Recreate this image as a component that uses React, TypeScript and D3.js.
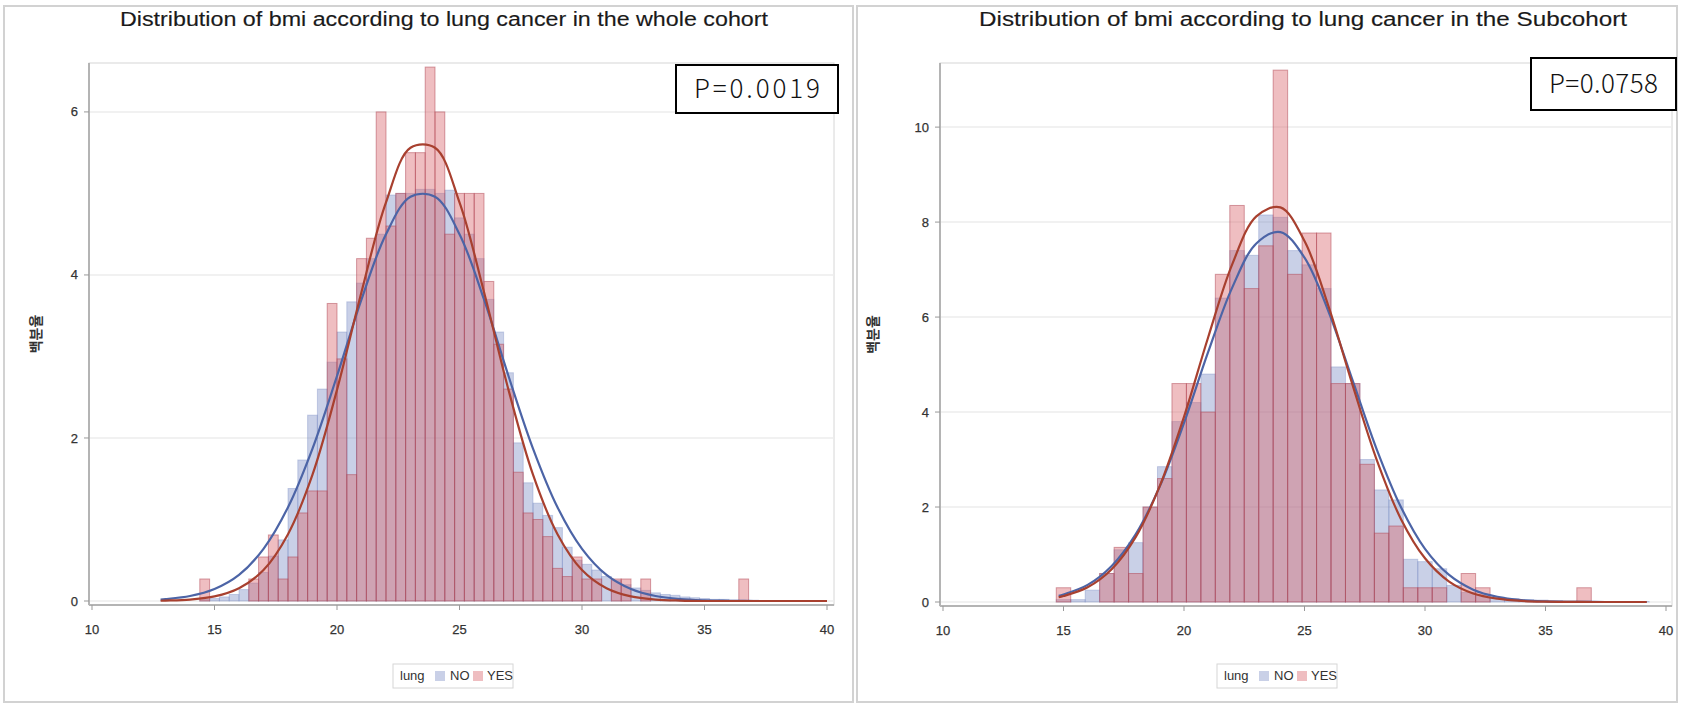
import React from 'react';
import * as d3 from 'd3';

// ---- text ----
const panelTitles = [
  'Distribution of bmi according to lung cancer in the whole cohort',
  'Distribution of bmi according to lung cancer in the Subcohort',
];
const pLabels = ['P=0.0019', 'P=0.0758'];
const legendTitle = 'lung';
const legendLabels = ['NO', 'YES'];
const yAxisLabel = '백분율';

// ---- ticks ----
const xTicks = [10, 15, 20, 25, 30, 35, 40];
const wholeYTicks = [0, 2, 4, 6];
const subYTicks = [0, 2, 4, 6, 8, 10];

// ---- whole cohort histogram (bin width 0.4, percent) ----
const wholeBinWidth = 0.4;
const wholeMids = [
  14.6, 15.0, 15.4, 15.8, 16.2, 16.6, 17.0, 17.4, 17.8, 18.2, 18.6, 19.0, 19.4, 19.8, 20.2,
  20.6, 21.0, 21.4, 21.8, 22.2, 22.6, 23.0, 23.4, 23.8, 24.2, 24.6, 25.0, 25.4, 25.8, 26.2,
  26.6, 27.0, 27.4, 27.8, 28.2, 28.6, 29.0, 29.4, 29.8, 30.2, 30.6, 31.0, 31.4, 31.8, 32.2,
  32.6, 33.0, 33.4, 33.8, 34.2, 34.6, 35.0, 35.4, 35.8, 36.2, 36.6, 37.0,
];
const wholeNo = [
  0.02, 0.03, 0.05, 0.08, 0.14, 0.22, 0.35, 0.55, 0.75, 1.38, 1.73, 2.28, 2.6, 2.93, 3.3,
  3.67, 3.9, 4.2, 4.5, 4.98, 5.0, 5.0, 5.05, 5.05, 5.0, 5.04, 4.7, 4.5, 4.2, 3.7,
  3.3, 2.8, 1.94, 1.45, 1.2, 1.05, 0.9, 0.66, 0.5, 0.45, 0.38, 0.3, 0.25, 0.2, 0.16,
  0.13, 0.1, 0.08, 0.07, 0.05, 0.04, 0.03, 0.02, 0.02, 0.01, 0.01, 0.01,
];
const wholeYes = [
  0.27, 0, 0, 0, 0, 0.27, 0.54, 0.81, 0.27, 0.54, 1.08, 1.35, 1.35, 3.65, 2.97,
  1.55, 4.2, 4.45, 6.0, 4.6, 5.0, 5.5, 5.5, 6.55, 6.0, 4.5, 5.0, 5.0, 5.0, 3.92,
  3.15, 2.6, 1.58, 1.08, 1.0, 0.79, 0.4, 0.3, 0.54, 0.27, 0.27, 0, 0.27, 0.27, 0,
  0.27, 0, 0, 0, 0, 0, 0, 0, 0, 0, 0.27, 0,
];

// ---- subcohort histogram (bin width 0.6, percent) ----
const subBinWidth = 0.6;
const subMids = [
  15.0, 15.6, 16.2, 16.8, 17.4, 18.0, 18.6, 19.2, 19.8, 20.4, 21.0, 21.6, 22.2, 22.8, 23.4,
  24.0, 24.6, 25.2, 25.8, 26.4, 27.0, 27.6, 28.2, 28.8, 29.4, 30.0, 30.6, 31.2, 31.8, 32.4,
  33.0, 33.6, 34.2, 34.8, 35.4, 36.0, 36.6, 37.2, 37.8, 38.4, 39.0,
];
const subNo = [
  0.05, 0.05, 0.25, 0.6, 1.1, 1.25, 2.0, 2.85, 3.8, 4.2, 4.8, 6.4, 7.4, 7.3, 8.15,
  8.1, 7.4, 7.1, 6.6, 4.95, 4.6, 3.0, 2.36, 2.15, 0.9, 0.85, 0.7, 0.35, 0.2, 0.15,
  0.1, 0.07, 0.05, 0.04, 0.03, 0.02, 0.02, 0.01, 0.01, 0.01, 0.01,
];
const subYes = [
  0.3, 0, 0, 0.6, 1.15, 0.6, 2.0, 2.6, 4.6, 4.6, 4.0, 6.9, 8.35, 6.6, 7.5,
  11.2, 6.9, 7.77, 7.77, 4.6, 4.6, 2.9, 1.45, 1.6, 0.3, 0.3, 0.3, 0, 0.6, 0.3,
  0, 0, 0, 0, 0, 0, 0.3, 0, 0, 0, 0,
];

// ---- fitted normal curves ----
const wholeCurveX = [
  12.8, 13, 14, 15, 16, 17, 18, 19, 20, 21, 22, 23, 24, 25, 26, 27, 28, 29, 30, 31, 32, 33,
  34, 35, 36, 37, 38, 39, 40,
];
const wholeCurveNo = [
  0.018, 0.023, 0.061, 0.147, 0.32, 0.64, 1.15, 1.87, 2.76, 3.7, 4.5, 4.96, 4.96, 4.5, 3.7,
  2.76, 1.87, 1.15, 0.64, 0.32, 0.147, 0.061, 0.023, 0.008, 0.003, 0, 0, 0, 0,
];
const wholeCurveYes = [
  0.003, 0.005, 0.018, 0.056, 0.156, 0.38, 0.82, 1.55, 2.59, 3.79, 4.89, 5.56, 5.56, 4.89,
  3.79, 2.59, 1.55, 0.82, 0.38, 0.156, 0.056, 0.018, 0.005, 0, 0, 0, 0, 0, 0,
];
const subCurveX = [
  14.8, 15, 16, 17, 18, 19, 20, 21, 22, 23, 24, 25, 26, 27, 28, 29, 30, 31, 32, 33, 34, 35,
  36, 37, 38, 39, 39.2,
];
const subCurveNo = [
  0.13, 0.158, 0.36, 0.76, 1.43, 2.44, 3.77, 5.26, 6.62, 7.55, 7.79, 7.25, 6.11, 4.66, 3.21,
  2.0, 1.12, 0.57, 0.26, 0.11, 0.041, 0.014, 0.004, 0.001, 0, 0, 0,
];
const subCurveYes = [
  0.1, 0.125, 0.31, 0.69, 1.37, 2.45, 3.9, 5.57, 7.11, 8.12, 8.31, 7.6, 6.22, 4.56, 2.99,
  1.75, 0.92, 0.43, 0.18, 0.07, 0.023, 0.007, 0.002, 0, 0, 0, 0,
];

const NO_FILL = '#7083c0';
const YES_FILL = '#d9646c';
const NO_LINE = '#4c64a6';
const YES_LINE = '#a8402f';
const FONT = '"Liberation Sans", Arial, sans-serif';

type PanelProps = {
  frame: [number, number, number, number];
  plot: { x0: number; x1: number; top: number; bottom: number };
  xRange: [number, number];
  yZero: number;
  yMax: number;
  titleX: number;
  labelX: number;
  legendX: number;
  title: string;
  pLabel: string;
  pBox: [number, number, number, number];
  yTicks: number[];
  mids: number[];
  binWidth: number;
  no: number[];
  yes: number[];
  curveX: number[];
  curveNo: number[];
  curveYes: number[];
};

function Panel(p: PanelProps) {
  const x = d3.scaleLinear().domain([10, 40]).range(p.xRange);
  const y = d3.scaleLinear().domain([0, p.yMax]).range([p.yZero, p.plot.top]);
  const line = d3
    .line<[number, number]>()
    .x((d) => x(d[0]))
    .y((d) => y(d[1]))
    .curve(d3.curveCatmullRom.alpha(0.5));
  const bars = (vals: number[]) =>
    p.mids.map((m, i) => ({ m, v: vals[i] })).filter((d) => d.v > 0);
  const [fx, fy, fw, fh] = p.frame;
  const [bx, by, bw, bh] = p.pBox;

  return (
    <g>
      <rect x={fx} y={fy} width={fw} height={fh} fill="#fff" stroke="#d2d2d2" strokeWidth={2} />
      <text
        x={p.titleX}
        y={26}
        textAnchor="middle"
        fontFamily={FONT}
        fontSize={20}
        fill="#1a1a1a"
        stroke="#1a1a1a"
        strokeWidth={0.15}
        textLength={648}
        lengthAdjust="spacingAndGlyphs"
      >
        {p.title}
      </text>

      {/* wall */}
      <rect
        x={p.plot.x0}
        y={p.plot.top}
        width={p.plot.x1 - p.plot.x0}
        height={p.plot.bottom - p.plot.top}
        fill="#fff"
        stroke="#d6d6d6"
      />
      {p.yTicks.map((t) => (
        <line key={t} x1={p.plot.x0} x2={p.plot.x1} y1={y(t)} y2={y(t)} stroke="#ececec" strokeWidth={1.5} />
      ))}

      {/* bars */}
      {bars(p.no).map((d) => (
        <rect
          key={'n' + d.m}
          x={x(d.m - p.binWidth / 2)}
          y={y(d.v)}
          width={x(d.m + p.binWidth / 2) - x(d.m - p.binWidth / 2)}
          height={y(0) - y(d.v)}
          fill={NO_FILL}
          fillOpacity={0.38}
          stroke={NO_FILL}
          strokeOpacity={0.35}
        />
      ))}
      {bars(p.yes).map((d) => (
        <rect
          key={'y' + d.m}
          x={x(d.m - p.binWidth / 2)}
          y={y(d.v)}
          width={x(d.m + p.binWidth / 2) - x(d.m - p.binWidth / 2)}
          height={y(0) - y(d.v)}
          fill={YES_FILL}
          fillOpacity={0.42}
          stroke="#b04452"
          strokeOpacity={0.5}
        />
      ))}

      {/* fitted curves */}
      <path
        d={line(p.curveX.map((v, i) => [v, p.curveNo[i]]) as [number, number][]) || ''}
        fill="none"
        stroke={NO_LINE}
        strokeWidth={2.2}
      />
      <path
        d={line(p.curveX.map((v, i) => [v, p.curveYes[i]]) as [number, number][]) || ''}
        fill="none"
        stroke={YES_LINE}
        strokeWidth={2.2}
      />

      {/* axes */}
      <line x1={p.plot.x0} x2={p.plot.x0} y1={p.plot.top} y2={p.plot.bottom} stroke="#b4b4b4" strokeWidth={2} />
      <line x1={p.plot.x0} x2={p.plot.x1} y1={p.plot.bottom} y2={p.plot.bottom} stroke="#b4b4b4" strokeWidth={2} />
      {p.yTicks.map((t) => (
        <g key={'yt' + t}>
          <line x1={p.plot.x0 - 5} x2={p.plot.x0} y1={y(t)} y2={y(t)} stroke="#999" />
          <text
            x={p.plot.x0 - 11}
            y={y(t)}
            dy="0.35em"
            textAnchor="end"
            fontFamily={FONT}
            fontSize={13}
            fill="#333"
            stroke="#333"
            strokeWidth={0.25}
          >
            {t}
          </text>
        </g>
      ))}
      {xTicks.map((t) => (
        <g key={'xt' + t}>
          <line x1={x(t)} x2={x(t)} y1={p.plot.bottom} y2={p.plot.bottom + 5} stroke="#999" />
          <text
            x={x(t)}
            y={p.plot.bottom + 29}
            textAnchor="middle"
            fontFamily={FONT}
            fontSize={13}
            fill="#333"
            stroke="#333"
            strokeWidth={0.25}
          >
            {t}
          </text>
        </g>
      ))}
      <text
        transform={`translate(${p.labelX},${(p.plot.top + p.plot.bottom) / 2}) rotate(-90)`}
        textAnchor="middle"
        fontFamily='"Noto Sans CJK KR", sans-serif'
        fontSize={14}
        fontWeight="bold"
        fill="#333"
      >
        {yAxisLabel}
      </text>

      {/* P value box */}
      <rect x={bx} y={by} width={bw} height={bh} fill="#fff" stroke="#000" strokeWidth={2} />
      <text
        x={bx + bw / 2}
        y={by + bh / 2}
        dy="0.36em"
        textAnchor="middle"
        fontFamily='"Noto Sans CJK KR", sans-serif'
        fontWeight={300}
        fontSize={26}
        fill="#111"
        textLength={bw - 36}
        lengthAdjust="spacing"
      >
        {p.pLabel}
      </text>

      {/* legend */}
      <g transform={`translate(${p.legendX - 60},664)`}>
        <rect x={0} y={0} width={120} height={24} fill="#fff" stroke="#d6d6d6" />
        <text x={7} y={16} fontFamily={FONT} fontSize={13} fill="#333">
          {legendTitle}
        </text>
        <rect x={42} y={7} width={10} height={10} fill={NO_FILL} fillOpacity={0.38} />
        <text x={57} y={16} fontFamily={FONT} fontSize={13} fill="#333">
          {legendLabels[0]}
        </text>
        <rect x={80} y={7} width={10} height={10} fill={YES_FILL} fillOpacity={0.42} />
        <text x={94} y={16} fontFamily={FONT} fontSize={13} fill="#333">
          {legendLabels[1]}
        </text>
      </g>
    </g>
  );
}

export default function App() {
  return (
    <svg
      width={1681}
      height={706}
      style={{ position: 'absolute', left: 0, top: 0, background: '#fff' }}
    >
      <Panel
        frame={[4, 6, 849, 696]}
        plot={{ x0: 89, x1: 834, top: 63, bottom: 605 }}
        xRange={[92, 827]}
        yZero={601}
        yMax={6.6}
        titleX={444}
        labelX={41}
        legendX={453}
        title={panelTitles[0]}
        pLabel={pLabels[0]}
        pBox={[676, 65, 162, 48]}
        yTicks={wholeYTicks}
        mids={wholeMids}
        binWidth={wholeBinWidth}
        no={wholeNo}
        yes={wholeYes}
        curveX={wholeCurveX}
        curveNo={wholeCurveNo}
        curveYes={wholeCurveYes}
      />
      <Panel
        frame={[857, 6, 820, 696]}
        plot={{ x0: 940, x1: 1672, top: 63, bottom: 606 }}
        xRange={[943, 1666]}
        yZero={602}
        yMax={11.35}
        titleX={1303}
        labelX={878}
        legendX={1277}
        title={panelTitles[1]}
        pLabel={pLabels[1]}
        pBox={[1531, 58, 145, 52]}
        yTicks={subYTicks}
        mids={subMids}
        binWidth={subBinWidth}
        no={subNo}
        yes={subYes}
        curveX={subCurveX}
        curveNo={subCurveNo}
        curveYes={subCurveYes}
      />
    </svg>
  );
}
